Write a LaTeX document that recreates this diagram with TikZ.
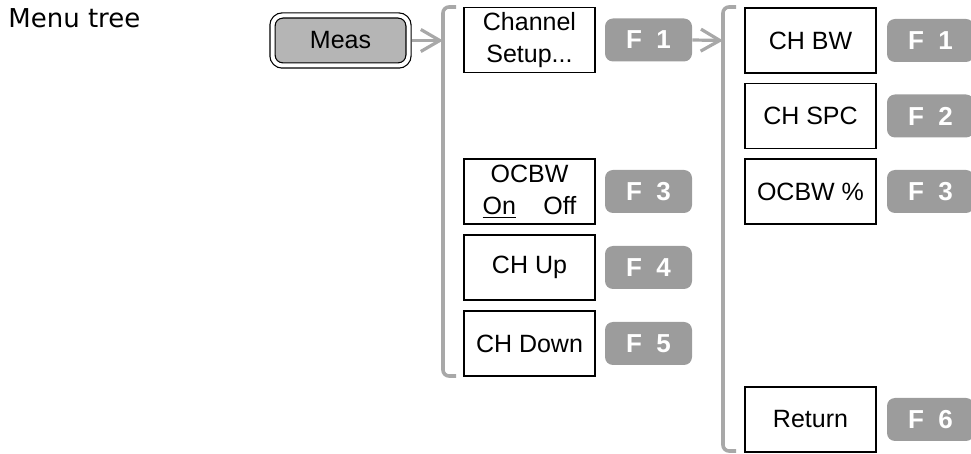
\documentclass[tikz,border=0pt]{standalone}
\usepackage{fontspec}
\setmainfont{Liberation Sans}
\newfontfamily\titlefont{DejaVu Sans}
\usetikzlibrary{arrows.meta}
\definecolor{MenuLine}{HTML}{A8A8A8}
\definecolor{MenuKey}{HTML}{9C9C9C}
\definecolor{MenuMeas}{HTML}{B5B5B5}
\tikzset{
  menulabel/.style={font=\fontsize{12.5}{16}\selectfont, text=black},
  menutitle/.style={font=\titlefont\fontsize{13}{15}\selectfont, text=black},
  softkey/.style={menulabel, draw=black, line width=0.7pt, fill=white, minimum width=65.5pt, minimum height=32.5pt, align=center, inner sep=1pt},
  fkey/.style={fill=MenuKey, rounded corners=4pt, minimum width=43.5pt, minimum height=21.5pt, inner sep=1pt, text=white, font=\fontsize{13}{15}\selectfont\bfseries},
  hardkey/.style={menulabel, draw=black, line width=0.6pt, double=white, double distance=2pt, fill=MenuMeas, rounded corners=5pt, minimum width=68pt, minimum height=25pt},
  menubracket/.style={draw=MenuLine, line width=1.8pt, rounded corners=3pt},
  menuarrow/.style={-{Straight Barb[length=9.5pt,width=11pt]}, draw=MenuLine, line width=1.6pt}
}

\begin{document}
\begin{tikzpicture}[x=0.5pt, y=-0.5pt]
\useasboundingbox (0,0) rectangle (971,454);
\node[menutitle, anchor=base west, inner sep=0pt] (title) at (8,28) {Menu tree};
\node[hardkey] (meas) at (340.5,40.5) {Meas};

% first level
\draw[menubracket] (456,7) -- (443,7) -- (443,376) -- (456,376);
\coordinate (brA) at (443,40.5);
\foreach \n/\y/\txt in {1/40/{Channel\\Setup...},3/191.5/{OCBW\\\underline{On}\hspace{1.1em}Off},4/267.5/{CH Up},5/343.5/{CH Down}} {
  \node[softkey] (left\n) at (529.5,\y) {\txt};
  \node[fkey] (fleft\n) at (648.5,\y) {F\hspace{0.55em}\n};
}

% second level
\draw[menubracket] (736,7) -- (723,7) -- (723,451) -- (736,451);
\coordinate (brB) at (723,40.5);
\foreach \n/\y/\txt in {1/40.5/{CH BW},2/116/{CH SPC},3/191.5/{OCBW \%},6/419.5/{Return}} {
  \node[softkey] (right\n) at (810.5,\y) {\txt};
  \node[fkey] (fright\n) at (930.5,\y) {F\hspace{0.55em}\n};
}

\draw[menuarrow, shorten <=1.6pt] (meas.east) -- (brA);
\draw[menuarrow] (fleft1.east) -- (brB);
\end{tikzpicture}
\end{document}
